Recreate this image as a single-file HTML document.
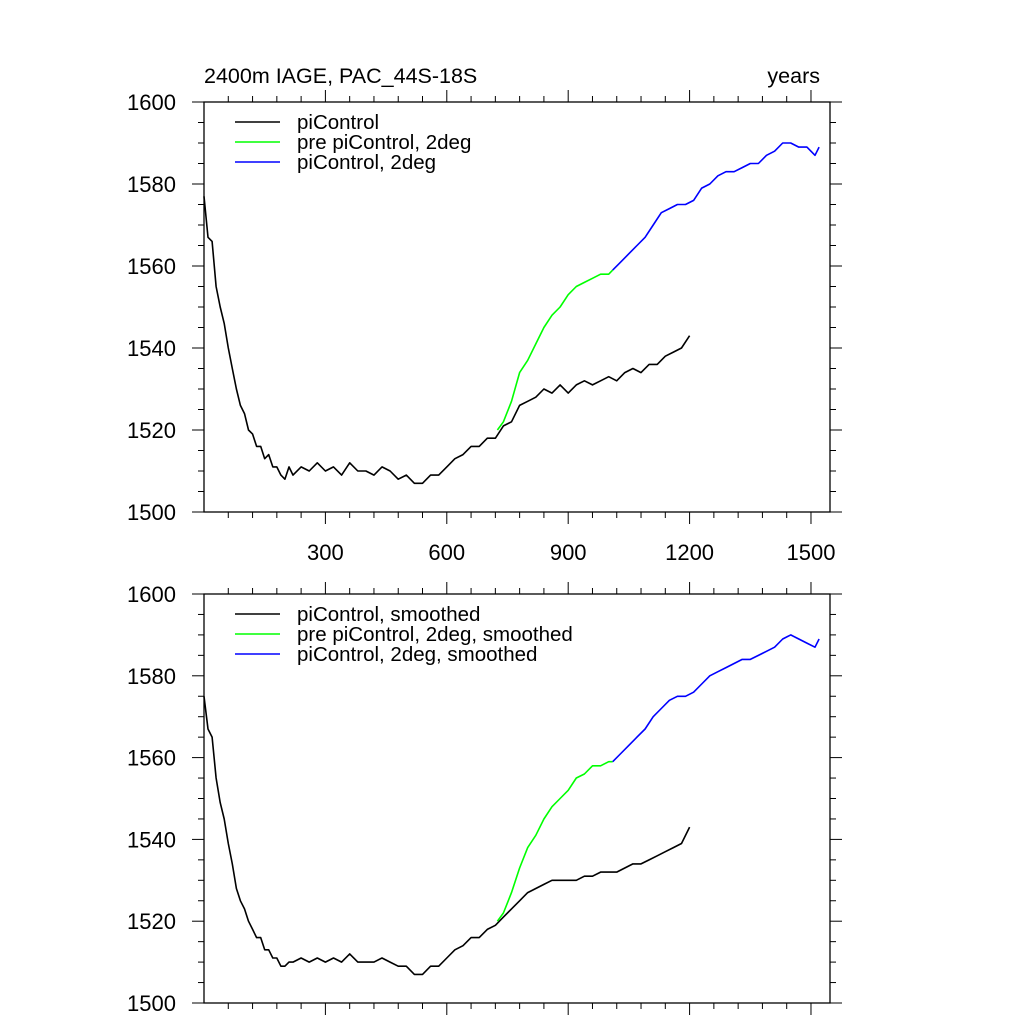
<!DOCTYPE html>
<html><head><meta charset="utf-8"><style>
body{margin:0;background:#fff;}
svg text{font-family:"Liberation Sans",sans-serif;fill:#000;}
</style></head><body>
<svg id="chart" width="1024" height="1024" viewBox="0 0 1024 1024"></svg>
<script>
const blackYears=[0,10,20,30,40,50,60,70,80,90,100,110,120,130,140,150,160,170,180,190,200,210,220,240,260,280,300,320,340,360,380,400,420,440,460,480,500,520,540,560,580,600,620,640,660,680,700,720,740,760,780,800,820,840,860,880,900,920,940,960,980,1000,1020,1040,1060,1080,1100,1120,1140,1160,1180,1200];
const blackRaw=[1577,1567,1566,1555,1550,1546,1540,1535,1530,1526,1524,1520,1519,1516,1516,1513,1514,1511,1511,1509,1508,1511,1509,1511,1510,1512,1510,1511,1509,1512,1510,1510,1509,1511,1510,1508,1509,1507,1507,1509,1509,1511,1513,1514,1516,1516,1518,1518,1521,1522,1526,1527,1528,1530,1529,1531,1529,1531,1532,1531,1532,1533,1532,1534,1535,1534,1536,1536,1538,1539,1540,1543];
const blackSmooth=[1575,1567,1565,1555,1549,1545,1539,1534,1528,1525,1523,1520,1518,1516,1516,1513,1513,1511,1511,1509,1509,1510,1510,1511,1510,1511,1510,1511,1510,1512,1510,1510,1510,1511,1510,1509,1509,1507,1507,1509,1509,1511,1513,1514,1516,1516,1518,1519,1521,1523,1525,1527,1528,1529,1530,1530,1530,1530,1531,1531,1532,1532,1532,1533,1534,1534,1535,1536,1537,1538,1539,1543];
const greenYears=[725,740,760,780,800,820,840,860,880,900,920,940,960,980,1000,1010];
const greenRaw=[1520,1522,1527,1534,1537,1541,1545,1548,1550,1553,1555,1556,1557,1558,1558,1559];
const greenSmooth=[1520,1522,1527,1533,1538,1541,1545,1548,1550,1552,1555,1556,1558,1558,1559,1559];
const blueYears=[1010,1030,1050,1070,1090,1110,1130,1150,1170,1190,1210,1230,1250,1270,1290,1310,1330,1350,1370,1390,1410,1430,1450,1470,1490,1510,1520];
const blueRaw=[1559,1561,1563,1565,1567,1570,1573,1574,1575,1575,1576,1579,1580,1582,1583,1583,1584,1585,1585,1587,1588,1590,1590,1589,1589,1587,1589];
const blueSmooth=[1559,1561,1563,1565,1567,1570,1572,1574,1575,1575,1576,1578,1580,1581,1582,1583,1584,1584,1585,1586,1587,1589,1590,1589,1588,1587,1589];
const yTicks=[1500,1520,1540,1560,1580,1600];
const xTicks=[300,600,900,1200,1500];

const svg=document.getElementById('chart');
const NS='http://www.w3.org/2000/svg';
const X0=204,X1=830,XMAX=1547;
function xs(v){return X0+(X1-X0)*v/XMAX;}
function mk(tag,attrs,parent){const e=document.createElementNS(NS,tag);for(const k in attrs)e.setAttribute(k,attrs[k]);(parent||svg).appendChild(e);return e;}

function panel(top,bottom,name,series,legend,showXLabels){
  const g=mk('g',{});
  
  
  const ys=v=>bottom-(bottom-top)*(v-1500)/100;
  const frame=mk('rect',{x:X0,y:top,width:X1-X0,height:bottom-top,fill:'none',stroke:'#000','stroke-width':1.3},g);
  
  
  for(let v=1500;v<=1600;v+=5){
    const maj=v%20===0, L=maj?12:6, y=ys(v);
    mk('line',{x1:X0-L,x2:X0,y1:y,y2:y,stroke:'#000','stroke-width':1},g);
    mk('line',{x1:X1,x2:X1+L,y1:y,y2:y,stroke:'#000','stroke-width':1},g);
  }
  yTicks.forEach(v=>{
    const t=mk('text',{x:X0-28,y:ys(v)+8,'text-anchor':'end','font-size':22},g);
    t.textContent=v;
    
    
  });
  for(let v=60;v<=XMAX;v+=60){
    const maj=v%300===0, L=maj?12:6, x=xs(v);
    mk('line',{x1:x,x2:x,y1:bottom,y2:bottom+L,stroke:'#000','stroke-width':1},g);
    mk('line',{x1:x,x2:x,y1:top-L,y2:top,stroke:'#000','stroke-width':1},g);
  }
  if(showXLabels) xTicks.forEach(v=>{
    const t=mk('text',{x:xs(v),y:bottom+48,'text-anchor':'middle','font-size':22},g);
    t.textContent=v;
    
    
  });
  series.forEach(s=>{
    const d=s.x.map((xv,i)=>(i?'L':'M')+xs(xv).toFixed(1)+','+ys(s.y[i]).toFixed(1)).join(' ');
    const p=mk('path',{d:d,fill:'none',stroke:s.c,'stroke-width':1.6,'stroke-linejoin':'round'},g);
    
    
  });
  legend.forEach((l,i)=>{
    const y=top+20+i*20;
    const le=mk('g',{},g);
    
    
    mk('line',{x1:235,x2:280,y1:y,y2:y,stroke:l[1],'stroke-width':1.6},le);
    const t=mk('text',{x:297,y:y+7,'font-size':20.5},le);
    t.textContent=l[0];
  });
}
panel(102,512,'top-panel',[
 {x:blackYears,y:blackRaw,c:'#000',n:'picontrol-line'},
 {x:greenYears,y:greenRaw,c:'#00ff00',n:'pre-picontrol-2deg-line'},
 {x:blueYears,y:blueRaw,c:'#0000ff',n:'picontrol-2deg-line'}],
 [['piControl','#000'],['pre piControl, 2deg','#00ff00'],['piControl, 2deg','#0000ff']],true);
panel(594,1003,'bottom-panel',[
 {x:blackYears,y:blackSmooth,c:'#000',n:'picontrol-smoothed-line'},
 {x:greenYears,y:greenSmooth,c:'#00ff00',n:'pre-picontrol-2deg-smoothed-line'},
 {x:blueYears,y:blueSmooth,c:'#0000ff',n:'picontrol-2deg-smoothed-line'}],
 [['piControl, smoothed','#000'],['pre piControl, 2deg, smoothed','#00ff00'],['piControl, 2deg, smoothed','#0000ff']],false);
const title=mk('text',{x:204,y:83,'font-size':21.5});
title.textContent='2400m IAGE, PAC_44S-18S';


const unit=mk('text',{x:820,y:83,'font-size':21.5,'text-anchor':'end'});
unit.textContent='years';


</script>
</body></html>
